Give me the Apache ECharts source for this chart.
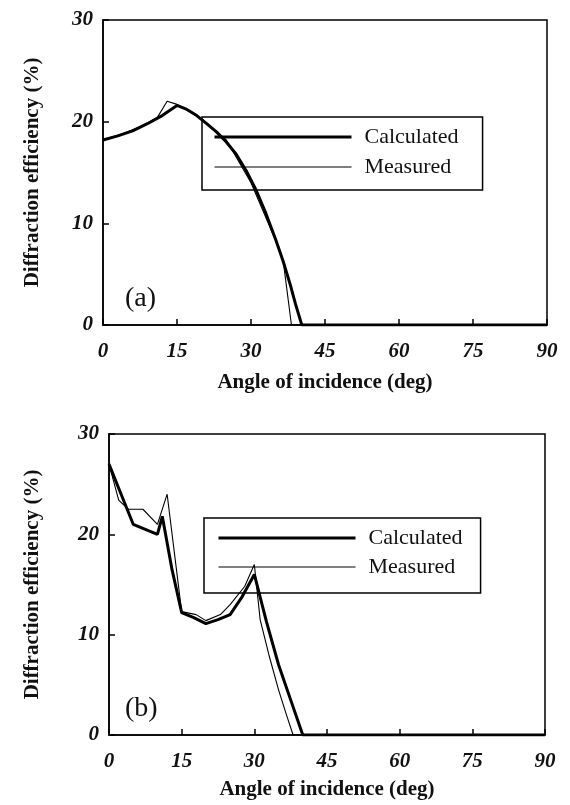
<!DOCTYPE html>
<html>
<head>
<meta charset="utf-8">
<script src="https://cdn.jsdelivr.net/npm/echarts@6/dist/echarts.min.js"></script>
<style>
  html, body { margin: 0; padding: 0; background: #fff; }
  #grafico { width: 570px; height: 805px; }
</style>
</head>
<body>
<div id="grafico"></div>
<script>
// Datos
const angulosCalcA = [0, 3, 6, 9, 12, 15, 17, 19, 21, 23, 25, 27, 29, 31, 33, 35, 36.5, 38, 39, 40.3, 45, 60, 75, 90];
const calculadoA   = [18.2, 18.6, 19.1, 19.8, 20.6, 21.6, 21.2, 20.6, 19.8, 19.0, 18.0, 16.8, 15.2, 13.3, 11.0, 8.4, 6.3, 3.9, 2.1, 0, 0, 0, 0, 0];
const angulosMedA  = [0, 4, 8, 11, 13, 15, 20, 25, 30, 35, 36.5, 38.2, 45, 60, 75, 90];
const medidoA      = [18.2, 18.8, 19.6, 20.4, 22.0, 21.7, 20.3, 18.2, 14.0, 8.3, 6.4, 0, 0, 0, 0, 0];

const angulosCalcB = [0, 2.5, 5, 7.5, 10, 11, 13, 15, 17.5, 20, 22.5, 25, 27.5, 30, 32.5, 35, 37.5, 40, 45, 60, 75, 90];
const calculadoB   = [27.0, 24.0, 21.0, 20.5, 20.0, 21.8, 16.5, 12.2, 11.7, 11.1, 11.5, 12.0, 13.8, 16.0, 11.3, 7.0, 3.5, 0, 0, 0, 0, 0];
const angulosMedB  = [0, 2, 4, 7, 10, 12, 15, 18, 20, 23, 25, 28, 30, 31.2, 33, 35, 36.5, 38, 45, 60, 75, 90];
const medidoB      = [27.0, 23.4, 22.5, 22.5, 21.0, 24.0, 12.3, 12.0, 11.4, 12.0, 13.0, 14.8, 17.0, 11.5, 8.0, 4.5, 2.2, 0, 0, 0, 0, 0];

const ticksX = [0, 15, 30, 45, 60, 75, 90];
const ticksY = [0, 10, 20, 30];

const nombres = ['Calculated', 'Measured'];
const grosores = [3, 1.1];
const fuente = 'Liberation Serif';

function pares(xs, ys) {
    return xs.map((x, i) => [x, ys[i]]);
}

function ejeX(indice, gap) {
    return {
        type: 'value',
        gridIndex: indice,
        min: ticksX[0],
        max: ticksX[ticksX.length - 1],
        interval: 15,
        name: 'Angle of incidence (deg)',
        nameLocation: 'middle',
        nameGap: gap,
        nameTextStyle: { fontFamily: fuente, fontSize: 21, fontWeight: 'bold', color: '#111' },
        axisLine: { show: true, lineStyle: { color: '#000', width: 1.5 } },
        axisTick: { show: true, inside: true, length: 6, lineStyle: { color: '#000', width: 1.5 } },
        axisLabel: { margin: 16, fontFamily: fuente, fontSize: 21, fontStyle: 'italic', fontWeight: 'bold', color: '#111' },
        splitLine: { show: false }
    };
}

function ejeY(indice, gap) {
    return {
        type: 'value',
        gridIndex: indice,
        min: ticksY[0],
        max: ticksY[ticksY.length - 1],
        interval: 10,
        name: 'Diffraction efficiency (%)',
        nameLocation: 'middle',
        nameGap: gap,
        nameTextStyle: { fontFamily: fuente, fontSize: 21, fontWeight: 'bold', color: '#111' },
        axisLine: { show: true, lineStyle: { color: '#000', width: 1.5 } },
        axisTick: { show: true, inside: true, length: 6, lineStyle: { color: '#000', width: 1.5 } },
        axisLabel: { margin: 10, fontFamily: fuente, fontSize: 21, fontStyle: 'italic', fontWeight: 'bold', color: '#111' },
        splitLine: { show: false }
    };
}

function serie(nombre, indice, datos, grosor) {
    return {
        name: nombre,
        type: 'line',
        xAxisIndex: indice,
        yAxisIndex: indice,
        data: datos,
        symbol: 'none',
        smooth: false,
        lineStyle: { color: '#000', width: grosor },
        itemStyle: { color: '#000' },
        z: grosor > 2 ? 3 : 4
    };
}

function leyenda(izq, arriba, hueco, relleno) {
    return {
        data: nombres.map((n, i) => ({ name: n, lineStyle: { width: grosores[i], color: '#000' } })),
        orient: 'vertical',
        left: izq,
        top: arriba,
        itemWidth: 137,
        itemHeight: 14,
        itemGap: hueco,
        padding: relleno,
        borderColor: '#000',
        borderWidth: 1.5,
        borderRadius: 0,
        selectedMode: false,
        itemStyle: { opacity: 0 },
        textStyle: {
            fontFamily: fuente, fontSize: 22, color: '#111',
            width: 118, padding: [0, 0, 0, 8]
        }
    };
}

const myChart = echarts.init(document.getElementById('grafico'));

const option = {
    backgroundColor: '#fff',
    animation: false,
    title: [
        { text: '(a)', left: 120, top: 280, textStyle: { fontFamily: fuente, fontSize: 28, fontWeight: 'normal', color: '#111' } },
        { text: '(b)', left: 120, top: 690, textStyle: { fontFamily: fuente, fontSize: 28, fontWeight: 'normal', color: '#111' } }
    ],
    grid: [
        { left: 103, right: 23, top: 20, bottom: 480, show: true, borderColor: '#000', borderWidth: 1.5, backgroundColor: 'transparent' },
        { left: 109, right: 25, top: 434, bottom: 70, show: true, borderColor: '#000', borderWidth: 1.5, backgroundColor: 'transparent' }
    ],
    xAxis: [ejeX(0, 47), ejeX(1, 44)],
    yAxis: [ejeY(0, 60), ejeY(1, 66)],
    legend: [
        leyenda(202, 117, 8, [9, 24, 12, 11]),
        leyenda(204, 518, 7, [9, 18, 15, 13])
    ],
    series: [
        serie('Calculated', 0, pares(angulosCalcA, calculadoA), grosores[0]),
        serie('Measured', 0, pares(angulosMedA, medidoA), grosores[1]),
        serie('Calculated', 1, pares(angulosCalcB, calculadoB), grosores[0]),
        serie('Measured', 1, pares(angulosMedB, medidoB), grosores[1])
    ]
};

myChart.setOption(option);
window.addEventListener('resize', () => myChart.resize());
</script>
</body>
</html>
